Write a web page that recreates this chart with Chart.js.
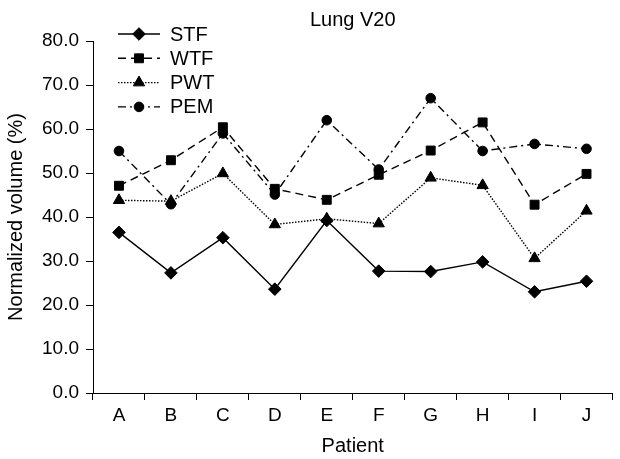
<!DOCTYPE html>
<html>
<head>
<meta charset="utf-8">
<script src="https://cdn.jsdelivr.net/npm/chart.js@4/dist/chart.umd.min.js"></script>
<style>
html,body{margin:0;padding:0;background:#fff;}
#wrap{width:620px;height:459px;}
</style>
</head>
<body>
<div id="wrap"><canvas id="c" width="620" height="459"></canvas></div>
<script>
const categories = ['A','B','C','D','E','F','G','H','I','J'];
const seriesNames = ['STF','WTF','PWT','PEM'];
const stf = [36.5, 27.3, 35.3, 23.6, 39.2, 27.7, 27.6, 29.8, 23.0, 25.4];
const wtf = [47.1, 52.9, 60.4, 46.4, 43.9, 49.6, 55.1, 61.5, 42.8, 49.8];
const pwt = [43.8, 43.6, 49.9, 38.3, 39.6, 38.5, 48.9, 47.2, 30.6, 41.4];
const pem = [55.0, 42.9, 59.0, 45.1, 62.0, 50.8, 67.0, 55.0, 56.6, 55.5];
const yTicks = [0,10,20,30,40,50,60,70,80];
const titleText = 'Lung V20';
const xTitle = 'Patient';
const yTitle = 'Normalized volume (%)';

const FONT = '"Liberation Sans", Arial, Helvetica, sans-serif';
const tickFont = {family: FONT, size: 19};
const titleFont = {family: FONT, size: 20};

function mk(label, data, style, radius, dash, order) {
  return {
    label, data,
    borderColor: '#000', backgroundColor: '#000',
    borderWidth: 1.4, borderDash: dash,
    pointStyle: style, pointRadius: radius, pointHoverRadius: radius,
    pointBackgroundColor: '#000', pointBorderColor: '#000', pointBorderWidth: 1,
    tension: 0, fill: false, order
  };
}

const datasets = [
  mk(seriesNames[0], stf, 'rectRot', 6.3, [], 4),
  mk(seriesNames[1], wtf, 'rect', 6.3, [8,5], 3),
  mk(seriesNames[2], pwt, 'triangle', 6.5, [1.5,1.5], 2),
  mk(seriesNames[3], pem, 'circle', 4.8, [8,4,2,4], 1)
];

const refPlugin = {
  id: 'refDecor',
  afterDraw(chart) {
    const ctx = chart.ctx;
    const ca = chart.chartArea;
    ctx.save();
    ctx.fillStyle = '#000';
    ctx.font = '20px ' + FONT;
    ctx.textAlign = 'center';
    ctx.textBaseline = 'middle';
    ctx.fillText(titleText, (ca.left + ca.right) / 2, 20);
    chart.data.datasets.forEach((ds, i) => {
      const y = 34 + i * 24.3;
      ctx.strokeStyle = '#000';
      ctx.lineWidth = ds.borderWidth;
      ctx.setLineDash(ds.borderDash || []);
      ctx.beginPath();
      ctx.moveTo(118, y);
      ctx.lineTo(160, y);
      ctx.stroke();
      ctx.setLineDash([]);
      ctx.fillStyle = '#000';
      ctx.lineWidth = 1;
      Chart.helpers.drawPoint(ctx, {pointStyle: ds.pointStyle, radius: ds.pointRadius, borderWidth: 1, rotation: 0}, 139, y);
      ctx.fillStyle = '#000';
      ctx.textAlign = 'left';
      ctx.textBaseline = 'middle';
      ctx.font = '20px ' + FONT;
      ctx.fillText(ds.label, 170, y + 1);
    });
    ctx.restore();
  }
};

new Chart(document.getElementById('c'), {
  type: 'line',
  data: { labels: categories, datasets },
  plugins: [refPlugin],
  options: {
    responsive: false,
    animation: false,
    devicePixelRatio: 1,
    layout: { padding: { top: 41, right: 0, left: 0, bottom: 0 } },
    plugins: { legend: { display: false }, title: { display: false }, tooltip: { enabled: false } },
    scales: {
      x: {
        type: 'category',
        offset: true,
        grid: { offset: true, drawOnChartArea: false, drawTicks: true, tickLength: 7, color: '#000', lineWidth: 1 },
        border: { display: true, color: '#000', width: 1 },
        ticks: { color: '#000', font: tickFont, padding: 4, maxRotation: 0, autoSkip: false },
        title: { display: true, text: xTitle, color: '#000', font: titleFont, padding: { top: 4, bottom: 1 } },
        afterFit(s) { s.height = 66; }
      },
      y: {
        min: yTicks[0], max: yTicks[yTicks.length - 1],
        afterBuildTicks(s) { s.ticks = yTicks.map(v => ({ value: v })); },
        grid: { drawOnChartArea: false, drawTicks: true, tickLength: 7, color: '#000', lineWidth: 1 },
        border: { display: true, color: '#000', width: 1 },
        ticks: { color: '#000', font: tickFont, padding: 7, callback: v => Number(v).toFixed(1) },
        title: { display: true, text: yTitle, color: '#000', font: titleFont, padding: { top: 4, bottom: 0 } },
        afterFit(s) { s.width = 93; }
      }
    }
  }
});
</script>
</body>
</html>
